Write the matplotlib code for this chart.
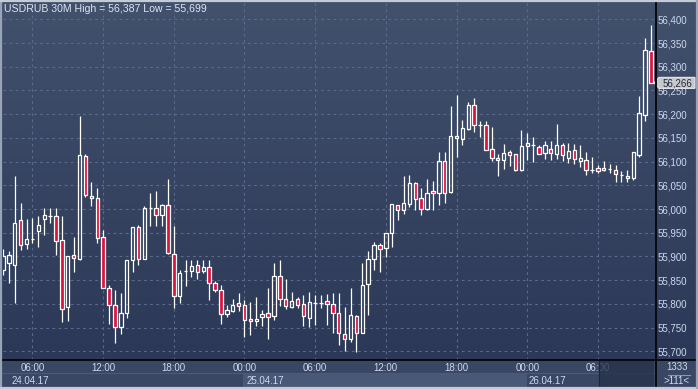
import matplotlib
matplotlib.use("Agg")
import matplotlib.pyplot as plt
import numpy as np
from matplotlib.patches import Rectangle, Polygon
from matplotlib.ticker import FuncFormatter

# ---------------- data ----------------
opens = [55872, 55886, 55882, 55977, 55926, 55936, 55954, 55979, 55985, 55985,
         55935, 55794, 55903, 55895, 56112, 56028, 56023, 55941, 55833, 55797,
         55751, 55780, 55892, 55963, 55895, 56003, 56003, 55988, 56009, 55906,
         55817, 55870, 55870, 55883, 55870, 55878, 55843, 55830, 55779, 55786,
         55801, 55798, 55768, 55764, 55772, 55781, 55775, 55859, 55811, 55794,
         55811, 55799, 55770, 55801, 55802, 55806, 55800, 55781, 55736, 55726,
         55774, 55738, 55842, 55894, 55924, 55917, 55950, 56008, 55997, 56011,
         56054, 56023, 56001, 56037, 56034, 56101, 56035, 56155, 56148, 56168,
         56220, 56177, 56177, 56126, 56108, 56103, 56120, 56115, 56082, 56133,
         56135, 56131, 56118, 56127, 56117, 56135, 56107, 56124, 56101, 56103,
         56083, 56086, 56082, 56085, 56083, 56072, 56070, 56065, 56114, 56199,
         56333]
highs = [55915, 55912, 56070, 56013, 55978, 55981, 55985, 56002, 56002, 56002,
         55985, 55901, 55942, 56196, 56116, 56058, 56044, 55955, 55839, 55829,
         55822, 55892, 55963, 55966, 56006, 56033, 56039, 56011, 56063, 55964,
         55871, 55892, 55892, 55892, 55892, 55892, 55849, 55839, 55797, 55810,
         55824, 55808, 55803, 55814, 55788, 55833, 55887, 55892, 55852, 55826,
         55814, 55819, 55826, 55819, 55818, 55821, 55823, 55823, 55794, 55834,
         55776, 55887, 55912, 55931, 55929, 55950, 56010, 56008, 56070, 56072,
         56056, 56044, 56063, 56059, 56121, 56121, 56217, 56240, 56187, 56225,
         56235, 56185, 56185, 56173, 56117, 56137, 56125, 56115, 56166, 56160,
         56151, 56136, 56144, 56143, 56180, 56140, 56140, 56137, 56134, 56121,
         56110, 56093, 56102, 56095, 56093, 56081, 56083, 56120, 56239, 56361,
         56387]
lows = [55860, 55844, 55802, 55914, 55916, 55928, 55919, 55946, 55970, 55903,
        55762, 55764, 55867, 55892, 56026, 56007, 55928, 55834, 55758, 55717,
        55736, 55771, 55868, 55882, 55895, 55964, 55964, 55964, 55906, 55792,
        55802, 55838, 55857, 55852, 55866, 55809, 55825, 55758, 55772, 55782,
        55786, 55730, 55735, 55753, 55753, 55726, 55765, 55796, 55790, 55791,
        55792, 55754, 55751, 55755, 55791, 55756, 55738, 55713, 55700, 55719,
        55699, 55738, 55777, 55872, 55868, 55898, 55919, 55976, 55990, 56005,
        55997, 55988, 55997, 55997, 56009, 56012, 56033, 56110, 56135, 56166,
        56163, 56152, 56124, 56101, 56070, 56085, 56091, 56080, 56080, 56104,
        56100, 56115, 56106, 56104, 56106, 56102, 56096, 56094, 56089, 56072,
        56075, 56077, 56080, 56076, 56058, 56058, 56058, 56061, 56109, 56185,
        56265]
closes = [55902, 55904, 55971, 55924, 55937, 55936, 55966, 55987, 55985, 55933,
          55790, 55901, 55897, 56114, 56029, 56023, 55939, 55834, 55798, 55751,
          55780, 55892, 55963, 55894, 56003, 56003, 55988, 56008, 55908, 55817,
          55866, 55870, 55880, 55868, 55878, 55843, 55829, 55779, 55788, 55798,
          55796, 55767, 55763, 55768, 55779, 55773, 55858, 55811, 55796, 55807,
          55798, 55774, 55805, 55801, 55802, 55800, 55780, 55738, 55726, 55776,
          55738, 55840, 55894, 55924, 55915, 55950, 56010, 55999, 56012, 56054,
          56022, 56000, 56034, 56034, 56102, 56033, 56155, 56149, 56170, 56219,
          56178, 56177, 56124, 56107, 56103, 56119, 56113, 56082, 56132, 56139,
          56135, 56116, 56134, 56118, 56135, 56114, 56123, 56105, 56108, 56082,
          56083, 56080, 56087, 56085, 56073, 56072, 56065, 56120, 56202, 56335,
          56266]

y_ticks = list(range(55700, 56401, 50))
time_tick_idx = [5, 17, 29, 41, 53, 65, 77, 89, 101]
time_labels = ["06:00", "12:00", "18:00", "00:00", "06:00", "12:00", "18:00", "00:00", "06:00"]
date_labels = ["24.04.17", "25.04.17", "26.04.17"]
title_text = "USDRUB 30M High = 56,387 Low = 55,699"
last_price_text = "56,266"
corner_top, corner_bottom = "1333", ">111<"

# ---------------- figure ----------------
W, H = 698, 389
FONT = "Liberation Sans"
TXT = "#cdd8f0"
fig = plt.figure(figsize=(W / 100, H / 100), dpi=100)

bg = fig.add_axes([0, 0, 1, 1], zorder=0)
bg.set_xlim(0, W); bg.set_ylim(H, 0); bg.axis("off")
grad = np.linspace(0, 1, 256)[:, None, None]
top_c = np.array([66, 81, 108]) / 255
bot_c = np.array([43, 56, 87]) / 255
img = top_c + (bot_c - top_c) * grad
bg.imshow(img, extent=[0, W, 360, 0], aspect="auto", interpolation="bilinear")
# bottom panel
bg.add_patch(Rectangle((0, 360), W, 29, facecolor="#3a4764", edgecolor="none"))
bg.add_patch(Rectangle((243, 373), 527 - 243, 14, facecolor="#4a5877", edgecolor="none"))
bg.plot([0, 656], [373, 373], color="#4d5a77", lw=0.8)

# main axes
ax = fig.add_axes([3 / W, 1 - 360 / H, (656 - 3) / W, (360 - 2) / H], zorder=2)
ax.set_facecolor("none")
for s in ax.spines.values():
    s.set_visible(False)
ax.set_xlim(0, (656 - 3) / 5.89)
ax.set_ylim(55681.7, 56436.5)

grid_kw = dict(color="#5b6a8b", lw=0.8, ls=(0, (2.5, 3)), zorder=1)
for v in y_ticks:
    ax.axhline(v, **grid_kw)
for i in time_tick_idx:
    ax.axvline(i, **grid_kw)

o = np.array(opens, float); h = np.array(highs, float)
l = np.array(lows, float); c = np.array(closes, float)
x = np.arange(len(o))
up = c > o; dn = c < o; dj = c == o
bw = 0.58
lw = 0.9
ax.vlines(x, np.maximum(o, c), h, color="white", lw=lw, zorder=3)
ax.vlines(x, l, np.minimum(o, c), color="white", lw=lw, zorder=3)
ax.bar(x[up], (c - o)[up], bottom=o[up], width=bw, facecolor="none",
       edgecolor="white", lw=lw, zorder=4)
ax.bar(x[dn], (o - c)[dn], bottom=c[dn], width=bw, facecolor="#e0113d",
       edgecolor="white", lw=lw, zorder=4)
ax.hlines(o[dj], x[dj] - bw / 2, x[dj] + bw / 2, color="white", lw=lw, zorder=4)

ax.yaxis.tick_right()
ax.set_yticks(y_ticks)
ax.yaxis.set_major_formatter(FuncFormatter(lambda v, p: f"{v:,.0f}"))
ax.tick_params(axis="y", length=0, pad=1.2, labelsize=7, labelcolor=TXT)
ax.set_xticks(time_tick_idx)
ax.set_xticklabels(time_labels)
ax.tick_params(axis="x", length=0, pad=2.5, labelsize=7, labelcolor=TXT)
for t in ax.get_xticklabels() + ax.get_yticklabels():
    t.set_fontfamily(FONT)

# overlay
ov = fig.add_axes([0, 0, 1, 1], zorder=5)
ov.set_xlim(0, W); ov.set_ylim(H, 0); ov.axis("off")
ov.set_facecolor("none")
ov.add_patch(Rectangle((599, 361), 55, 26, facecolor="#26314a", edgecolor="none", alpha=0.78))
ov.plot([599, 599], [361, 387], color="#1d2639", lw=0.8)
ov.plot([0, W], [360, 360], color="#080a10", lw=1.4)
ov.plot([656, 656], [2, 389], color="#080a10", lw=1.4)
# frame
ov.plot([0.8, 0.8], [0, H], color="#9aa4b8", lw=1.6)
ov.plot([0, W], [0.8, 0.8], color="#c4cad6", lw=1.6)
ov.plot([0, W], [388, 388], color="#c4cad6", lw=1.6)
ov.plot([W - 0.8, W - 0.8], [0, H], color="#9aa4b8", lw=1.6)

# title
ov.text(4, 8.5, title_text, ha="left", va="center", fontsize=7.6, color="#dde4f2", family=FONT)
# date labels
for xd, lab in zip([12, 247, 529], date_labels):
    ov.text(xd, 381, lab, ha="left", va="center", fontsize=7, color=TXT, family=FONT)
# corner
ov.text(677, 367.5, corner_top, ha="center", va="center", fontsize=7, color=TXT, family=FONT)
ov.plot([668, 690], [374.5, 374.5], color="#8a96b0", lw=0.8)
ov.text(677, 381, corner_bottom, ha="center", va="center", fontsize=7, color=TXT, family=FONT)

# last price tag (placed at the last close through the axes transform)
fig.canvas.draw()
disp = ax.transData.transform((0, closes[-1]))
ypx = H - disp[1]
poly = Polygon([(654, ypx), (659, ypx - 5.5), (695, ypx - 5.5), (695, ypx + 5.5), (659, ypx + 5.5)],
               closed=True, facecolor="#c6c8cc", edgecolor="#e6e8ec", lw=0.8)
ov.add_patch(poly)
ov.text(677, ypx + 0.3, last_price_text, ha="center", va="center", fontsize=7,
        color="#20283a", family=FONT)

fig.savefig("out.png", dpi=100)
